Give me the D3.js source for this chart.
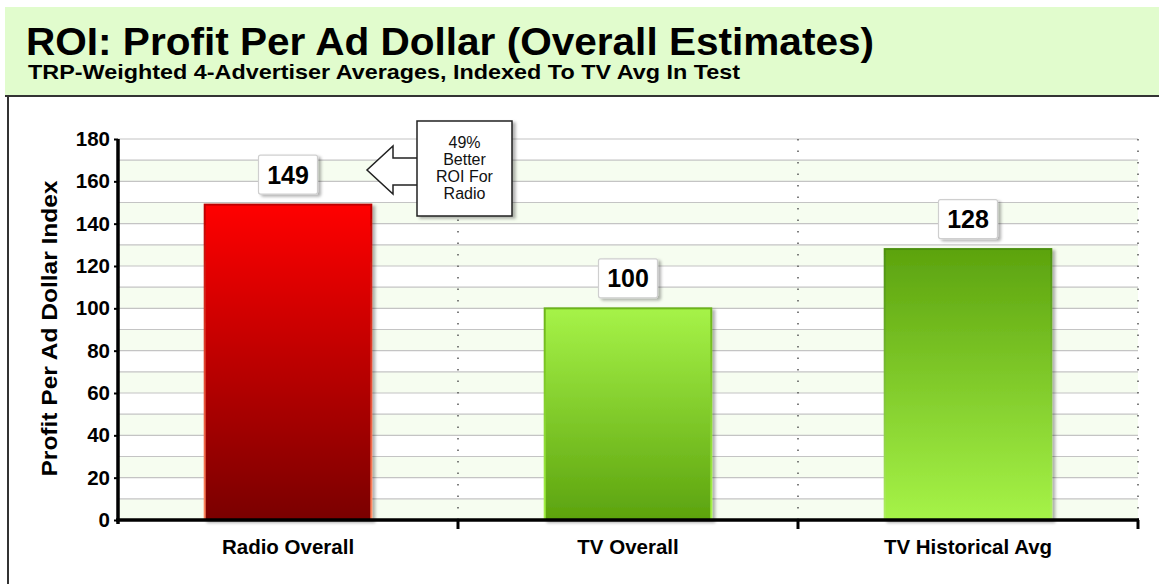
<!DOCTYPE html>
<html>
<head>
<meta charset="utf-8">
<script src="https://cdn.jsdelivr.net/npm/d3@7"></script>
<style>
  body { margin: 0; background: #fff; }
  svg text { font-family: Arial, "Liberation Sans", sans-serif; }
</style>
</head>
<body>
<svg id="chart" width="1159" height="584"></svg>
<script>
// chart data
var categories = ["Radio Overall", "TV Overall", "TV Historical Avg"];
var values = [149, 100, 128];
var yTicks = [0, 20, 40, 60, 80, 100, 120, 140, 160, 180];
var calloutLines = ["49%", "Better", "ROI For", "Radio"];

var titleText = "ROI: Profit Per Ad Dollar (Overall Estimates)";
var subtitleText = "TRP-Weighted 4-Advertiser Averages, Indexed To TV Avg In Test";
var yTitle = "Profit Per Ad Dollar Index";

var svg = d3.select("#chart");
var defs = svg.append("defs");

// header band
svg.append("rect").attr("x", 5).attr("y", 7).attr("width", 1154).attr("height", 89)
  .attr("fill", "#e1fccd");
svg.append("line").attr("x1", 5).attr("x2", 1159).attr("y1", 96).attr("y2", 96)
  .attr("stroke", "#333").attr("stroke-width", 2);
svg.append("line").attr("x1", 8).attr("x2", 8).attr("y1", 96).attr("y2", 584)
  .attr("stroke", "#333").attr("stroke-width", 2);

svg.append("text").attr("x", 26).attr("y", 55)
  .attr("font-size", 39).attr("font-weight", "bold").attr("fill", "#000")
  .attr("textLength", 848).attr("lengthAdjust", "spacingAndGlyphs")
  .text(titleText);
svg.append("text").attr("x", 28).attr("y", 79)
  .attr("font-size", 21).attr("font-weight", "bold").attr("fill", "#000")
  .attr("textLength", 712).attr("lengthAdjust", "spacingAndGlyphs")
  .text(subtitleText);

// scales
var plotL = 118, plotR = 1138, plotT = 139, plotB = 520;
var x = d3.scaleBand().domain(categories).range([plotL, plotR]).paddingInner(0).paddingOuter(0);
var y = d3.scaleLinear().domain([0, 180]).range([plotB, plotT]);

// alternating bands every 10
var bands = d3.range(0, 180, 10);
svg.append("g").selectAll("rect").data(bands).join("rect")
  .attr("x", plotL).attr("width", plotR - plotL)
  .attr("y", function(d) { return y(d + 10); })
  .attr("height", function(d) { return y(d) - y(d + 10); })
  .attr("fill", function(d) { return (d / 10) % 2 === 0 ? "#f6fdf0" : "#ffffff"; });

svg.append("g").selectAll("line").data(d3.range(10, 190, 10)).join("line")
  .attr("x1", plotL).attr("x2", plotR)
  .attr("y1", function(d) { return y(d); }).attr("y2", function(d) { return y(d); })
  .attr("stroke", "#c4c4c4").attr("stroke-width", 1.2);

// vertical dotted separators
svg.append("g").selectAll("line").data(categories).join("line")
  .attr("x1", function(d) { return x(d) + x.bandwidth(); })
  .attr("x2", function(d) { return x(d) + x.bandwidth(); })
  .attr("y1", plotT).attr("y2", plotB)
  .attr("stroke", "#555").attr("stroke-width", 1.5).attr("stroke-dasharray", "1.5,10");

// gradients
function grad(id, c1, c2) {
  var g = defs.append("linearGradient").attr("id", id)
    .attr("x1", 0).attr("x2", 0).attr("y1", 0).attr("y2", 1);
  g.append("stop").attr("offset", "0%").attr("stop-color", c1);
  g.append("stop").attr("offset", "100%").attr("stop-color", c2);
}
grad("g0", "#ff0000", "#7a0000");
grad("g0s", "#c00000", "#ff8a60");
grad("g1", "#a6f348", "#5ca30e");
grad("g1s", "#6cb41a", "#a6f348");
grad("g2", "#5ca30e", "#a6f348");
grad("g2s", "#4c9010", "#b0f060");
var fills = ["url(#g0)", "url(#g1)", "url(#g2)"];
var strokes = ["url(#g0s)", "url(#g1s)", "url(#g2s)"];

var shadow = defs.append("filter").attr("id", "sh").attr("x", "-20%").attr("y", "-20%")
  .attr("width", "150%").attr("height", "150%");
shadow.append("feDropShadow").attr("dx", 3).attr("dy", 2).attr("stdDeviation", 1.5)
  .attr("flood-color", "#000").attr("flood-opacity", 0.3);

var barW = x.bandwidth() * 0.49;
var bars = svg.append("g");
bars.selectAll("rect").data(values).join("rect")
  .attr("x", function(d, i) { return x(categories[i]) + (x.bandwidth() - barW) / 2; })
  .attr("y", function(d) { return y(d); })
  .attr("width", barW)
  .attr("height", function(d) { return plotB - y(d); })
  .attr("fill", function(d, i) { return fills[i]; })
  .attr("stroke", function(d, i) { return strokes[i]; })
  .attr("stroke-width", 2)
  .attr("filter", "url(#sh)");

// value labels
var lab = svg.append("g").selectAll("g").data(values).join("g")
  .attr("transform", function(d, i) {
    return "translate(" + (x(categories[i]) + x.bandwidth() / 2) + "," + (y(d) - 30) + ")";
  });
lab.append("rect").attr("x", -29.5).attr("y", -19.5).attr("width", 59).attr("height", 39)
  .attr("fill", "#fff").attr("stroke", "#cfcfcf").attr("stroke-width", 1.2)
  .attr("rx", 2).attr("filter", "url(#sh)");
lab.append("text").attr("text-anchor", "middle").attr("dy", "0.36em")
  .attr("font-size", 25).attr("font-weight", "bold").attr("fill", "#000")
  .text(function(d) { return d; });

// axes
var yAxis = d3.axisLeft(y).tickValues(yTicks).tickSize(4).tickPadding(4);
var yg = svg.append("g").attr("transform", "translate(" + plotL + ",0)").call(yAxis);
yg.select(".domain").attr("stroke", "#000").attr("stroke-width", 3.5)
  .attr("d", "M0," + plotT + "V" + (plotB + 4));
yg.selectAll(".tick line").attr("stroke", "#000").attr("stroke-width", 2);
yg.selectAll(".tick text").attr("font-size", 20.5).attr("font-weight", "bold")
  .attr("fill", "#000").attr("font-family", "Arial, 'Liberation Sans', sans-serif");

var xAxis = d3.axisBottom(x).tickSize(0).tickPadding(19);
var xg = svg.append("g").attr("transform", "translate(0," + plotB + ")").call(xAxis);
xg.select(".domain").attr("stroke", "#000").attr("stroke-width", 3.5)
  .attr("d", "M" + (plotL - 2) + ",0H" + (plotR + 1));
xg.selectAll(".tick text").attr("font-size", 20.5).attr("font-weight", "bold")
  .attr("fill", "#000").attr("font-family", "Arial, 'Liberation Sans', sans-serif");
xg.append("g").selectAll("line").data(categories).join("line")
  .attr("x1", function(d) { return x(d) + x.bandwidth(); })
  .attr("x2", function(d) { return x(d) + x.bandwidth(); })
  .attr("y1", 0).attr("y2", 9)
  .attr("stroke", "#000").attr("stroke-width", 3);

svg.append("text")
  .attr("transform", "translate(57," + ((plotT + plotB) / 2 - 1) + ") rotate(-90)")
  .attr("text-anchor", "middle").attr("font-size", 22.5).attr("font-weight", "bold")
  .attr("textLength", 296).attr("lengthAdjust", "spacingAndGlyphs")
  .attr("fill", "#000").text(yTitle);

// callout with arrow pointing at radio
var cx = 417, cy = 121;
var arrow = "M" + (cx + 1) + ",158 L393,158 L393,146 L367,170 L393,194 L393,185 L" + (cx + 1) + ",185";
svg.append("path").attr("d", arrow + " Z").attr("fill", "#fff")
  .attr("stroke", "#222").attr("stroke-width", 1.5).attr("stroke-linejoin", "miter");
svg.append("rect").attr("x", cx).attr("y", cy).attr("width", 95).attr("height", 95)
  .attr("fill", "#fff").attr("stroke", "#222").attr("stroke-width", 1.5)
  .attr("filter", "url(#sh)");
svg.append("text").attr("text-anchor", "middle").attr("font-size", 16).attr("fill", "#111")
  .selectAll("tspan").data(calloutLines).join("tspan")
  .attr("x", cx + 47.5).attr("y", function(d, i) { return 148 + i * 17; })
  .text(function(d) { return d; });
</script>
</body>
</html>
